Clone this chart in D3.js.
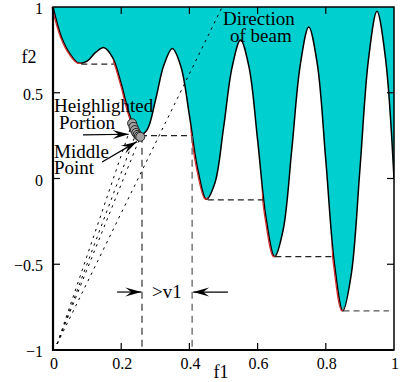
<!DOCTYPE html>
<html>
<head>
<meta charset="utf-8">
<script src="https://cdn.jsdelivr.net/npm/d3@7/dist/d3.min.js"></script>
<style>
body{margin:0;background:#fff}
text{font-family:"Liberation Serif","Times New Roman",serif;fill:#000}
</style>
</head>
<body>
<div id="chart"></div>
<script>
// curve, every 0.025 in f1
let f1Vals = [0,0.025,0.05,0.075,0.1,0.125,0.15,0.175,0.2,0.225,0.25,0.275,0.3,0.325,0.35,0.375,0.4,0.425,0.45,0.475,
  0.5,0.525,0.55,0.575,0.6,0.625,0.65,0.675,0.7,0.725,0.75,0.775,0.8,0.825,0.85,0.875,0.9,0.925,0.95,0.975,1]
let f2Vals = [1,0.824,0.726,0.673,0.684,0.735,0.763,0.705,0.553,0.367,0.25,0.281,0.452,0.66,0.758,0.653,0.368,0.048,-0.121,-0.025,
  0.293,0.647,0.808,0.648,0.225,-0.233,-0.456,-0.299,0.163,0.661,0.884,0.668,0.106,-0.492,-0.772,-0.554,0.051,0.692,0.975,0.702,0]

// parts of the curve drawn in red
let frontRanges = [[0,0.083],[0.182,0.258],[0.409,0.454],[0.618,0.652],[0.823,0.852]]

// local minima and where their dashed lines end
let minF1 = [0.083,0.258,0.454,0.652,0.852]
let minF2 = [0.667,0.25,-0.125,-0.455,-0.772]
let dashEnd = [0.178,0.405,0.62,0.822,0.985]

// highlighted portion
let hlF1 = [0.232,0.236,0.24,0.244,0.248,0.252,0.256]
let hlF2 = [0.322,0.301,0.282,0.266,0.255,0.247,0.243]

// beam lines
let beamOrigin = [0.012,-0.965]
let beamEnds = [[0.232,0.322],[0.244,0.266],[0.256,0.243],[0.496,1]]

let vLines = [0.261,0.408]

let xTicks = [0,0.2,0.4,0.6,0.8,1]
let xTickLabels = ['0','0.2','0.4','0.6','0.8','1']
let yTicks = [1,0.5,0,-0.5,-1]
let yTickLabels = ['1','0.5','0','\u22120.5','\u22121']

let W = 401, H = 382
let x = d3.scaleLinear().domain([0,1]).range([53,394])
let y = d3.scaleLinear().domain([-1,1]).range([350,7])

let svg = d3.select('#chart').append('svg')
  .attr('width',W).attr('height',H)

let defs = svg.append('defs')
defs.append('clipPath').attr('id','plot')
  .append('rect').attr('x',x(0)).attr('y',y(1)).attr('width',x(1)-x(0)).attr('height',y(-1)-y(1))

let fc = defs.append('clipPath').attr('id','front')
frontRanges.forEach(r=>{
  fc.append('rect').attr('x',x(r[0])-2).attr('y',0).attr('width',x(r[1])-x(r[0])+2).attr('height',H)
})

defs.append('marker').attr('id','arr')
  .attr('markerUnits','userSpaceOnUse')
  .attr('markerWidth',18).attr('markerHeight',12)
  .attr('viewBox','-17 -6 18 12')
  .attr('refX',0).attr('refY',0)
  .attr('orient','auto')
  .append('path').attr('d','M0,0 L-16,-4.5 L-10,0 L-16,4.5 Z').attr('fill','#000')

let pts = f1Vals.map((d,i)=>[d,f2Vals[i]])

let area = d3.area()
  .x(d=>x(d[0])).y0(y(1)).y1(d=>y(d[1]))
  .curve(d3.curveCatmullRom)

let line = d3.line()
  .x(d=>x(d[0])).y(d=>y(d[1]))
  .curve(d3.curveCatmullRom)

let g = svg.append('g').attr('clip-path','url(#plot)')

g.append('path').attr('d',area(pts)).attr('fill','#00cfcf')

// red front parts
svg.append('g').attr('clip-path','url(#front)')
  .append('path').attr('d',line(pts))
  .attr('transform','translate(-1,0)')
  .attr('fill','none').attr('stroke','#d03030').attr('stroke-width',1.3)

g.append('path').attr('d',line(pts))
  .attr('fill','none').attr('stroke','#000').attr('stroke-width',1.5)

// dashed lines from minima
minF1.forEach((m,i)=>{
  svg.append('line')
    .attr('x1',x(m)).attr('x2',x(dashEnd[i]))
    .attr('y1',y(minF2[i])).attr('y2',y(minF2[i]))
    .attr('stroke',i==4?'#555':'#222').attr('stroke-width',1.2)
    .attr('stroke-dasharray','6,4')
})

vLines.forEach((v,i)=>{
  svg.append('line')
    .attr('x1',x(v)).attr('x2',x(v))
    .attr('y1',y(minF2[1])).attr('y2',y(-1))
    .attr('stroke',i==0?'#444':'#666').attr('stroke-width',1.3)
    .attr('stroke-dasharray','7,5')
})

// beam
beamEnds.forEach(e=>{
  svg.append('line')
    .attr('x1',x(beamOrigin[0])).attr('y1',y(beamOrigin[1]))
    .attr('x2',x(e[0])).attr('y2',y(e[1]))
    .attr('stroke','#000').attr('stroke-width',1)
    .attr('stroke-dasharray','2.5,4.5')
})

// highlighted circles
svg.selectAll('.hl').data(hlF1).enter().append('circle')
  .attr('cx',(d)=>x(d)).attr('cy',(d,i)=>y(hlF2[i]))
  .attr('r',4.5)
  .attr('fill','#a0a0a0').attr('stroke','#222').attr('stroke-width',1)

// arrows
let arrows = [
  [[0.088,0.254],[0.222,0.258]],
  [[0.144,0.096],[0.246,0.215]],
  [[0.188,-0.662],[0.259,-0.662]],
  [[0.513,-0.662],[0.411,-0.662]]
]
arrows.forEach(a=>{
  svg.append('line')
    .attr('x1',x(a[0][0])).attr('y1',y(a[0][1]))
    .attr('x2',x(a[1][0])).attr('y2',y(a[1][1]))
    .attr('stroke','#000').attr('stroke-width',1.2)
    .attr('marker-end','url(#arr)')
})

// frame
svg.append('rect')
  .attr('x',x(0)).attr('y',y(1)).attr('width',x(1)-x(0)).attr('height',y(-1)-y(1))
  .attr('fill','none').attr('stroke','#000').attr('stroke-width',1.5)
svg.append('path')
  .attr('d',`M${x(0)},${y(1)}V${y(-1)}H${x(1)}`)
  .attr('fill','none').attr('stroke','#000').attr('stroke-width',2.2)

// ticks, inward on every side
let tk = 7
xTicks.slice(1,-1).forEach(t=>{
  svg.append('line').attr('x1',x(t)).attr('x2',x(t)).attr('y1',y(-1)).attr('y2',y(-1)-tk).attr('stroke','#000').attr('stroke-width',1.2)
  svg.append('line').attr('x1',x(t)).attr('x2',x(t)).attr('y1',y(1)).attr('y2',y(1)+tk).attr('stroke','#000').attr('stroke-width',1.2)
})
yTicks.slice(1,-1).forEach(t=>{
  svg.append('line').attr('x1',x(0)).attr('x2',x(0)+tk).attr('y1',y(t)).attr('y2',y(t)).attr('stroke','#000').attr('stroke-width',1.2)
  svg.append('line').attr('x1',x(1)).attr('x2',x(1)-tk).attr('y1',y(t)).attr('y2',y(t)).attr('stroke','#000').attr('stroke-width',1.2)
})

svg.selectAll('.xl').data(xTicks).enter().append('text')
  .attr('x',d=>x(d)+1).attr('y',369)
  .attr('text-anchor','middle').attr('font-size',16)
  .text((d,i)=>xTickLabels[i])

svg.selectAll('.yl').data(yTicks).enter().append('text')
  .attr('x',43).attr('y',d=>y(d)+7)
  .attr('text-anchor','end').attr('font-size',16)
  .text((d,i)=>yTickLabels[i])

svg.append('text').attr('x',221).attr('y',378).attr('text-anchor','middle').attr('font-size',18).text('f1')
svg.append('text').attr('x',29).attr('y',63).attr('text-anchor','middle').attr('font-size',18).text('f2')

// annotations
let notes = [
  ['Direction',223,25],
  ['of beam',230,42],
  ['Heighlighted',54,112],
  ['Portion',59,129],
  ['Middle',54,158],
  ['Point',54,174],
  ['>v1',152,298]
]
notes.forEach(n=>{
  svg.append('text').attr('x',n[1]).attr('y',n[2]).attr('font-size',19).text(n[0])
})
</script>
</body>
</html>
